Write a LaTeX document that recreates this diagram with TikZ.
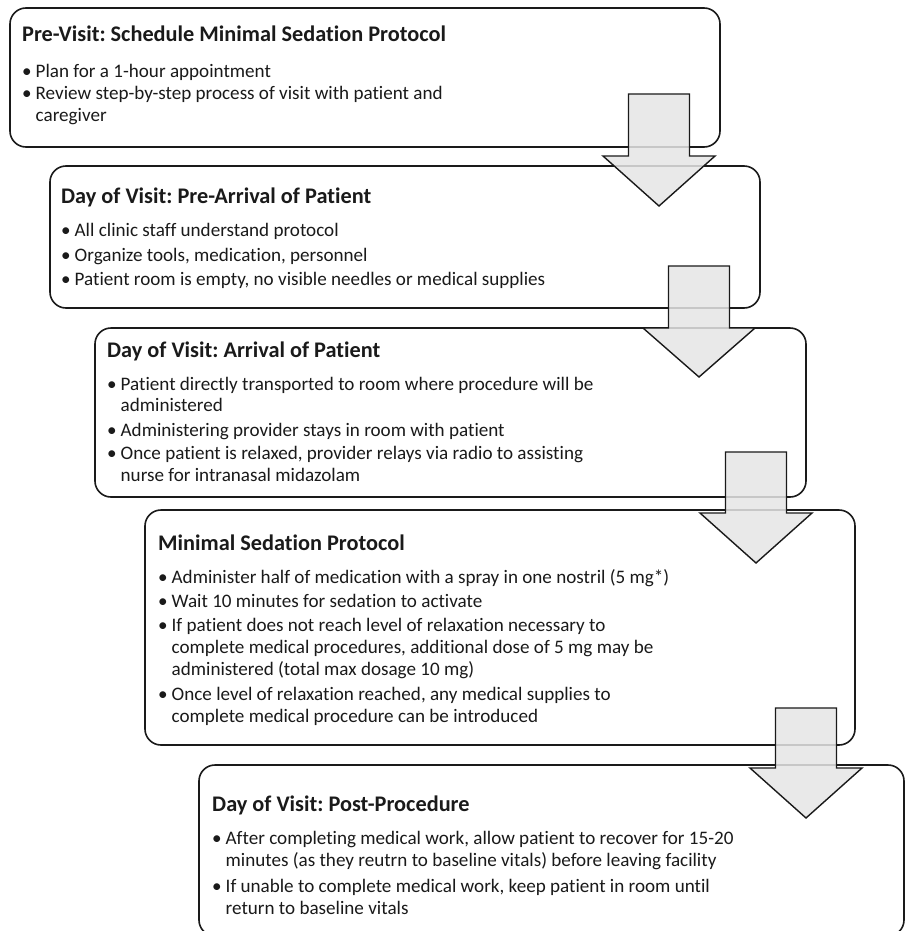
\documentclass[tikz,border=0pt]{standalone}
\usepackage{fontspec}
\setmainfont[Ligatures=NoCommon]{Carlito}
\frenchspacing
\definecolor{ink}{HTML}{1A1A1A}
\definecolor{arrfill}{HTML}{E6E6E6}
\newcommand{\bul}{\makebox[13.5bp][l]{•}}
\begin{document}
\begin{tikzpicture}[x=1bp,y=-1bp,
  box/.style={draw=ink, line width=1.6bp, rounded corners=16bp, fill=white},
  arr/.style={draw=ink, line width=1.4bp, fill=arrfill, fill opacity=0.85, line join=miter},
  ttl/.style={anchor=base west, inner sep=0, text=ink, font=\fontsize{22.3bp}{26bp}\selectfont\bfseries},
  txt/.style={anchor=base west, inner sep=0, text=ink, font=\fontsize{19.1bp}{22bp}\selectfont}]
\clip (0,0) rectangle (905,931);
\fill[white] (0,0) rectangle (905,931);
% boxes
\draw[box] (10,8) rectangle (720,147);
\draw[box] (50,166) rectangle (760,308);
\draw[box] (95,328) rectangle (806,497);
\draw[box] (145,510) rectangle (855,745);
\draw[box] (199,765) rectangle (904,936);
% block arrows
\newcommand{\blockarrow}[4]{%
  \draw[arr] ({#1-30.5},#2) -- ({#1+30.5},#2) -- ({#1+30.5},#3) -- ({#1+56},#3)
    -- (#1,#4) -- ({#1-56},#3) -- ({#1-30.5},#3) -- cycle;}
\blockarrow{659}{94}{156}{206}
\blockarrow{699}{266}{328}{377}
\blockarrow{756}{452}{513}{563}
\blockarrow{806}{708}{768}{818}
% box 1
\node[ttl] (t1) at (22,41.5) {Pre-Visit: Schedule Minimal Sedation Protocol};
\node[txt] (t1a) at (22,77) {\bul Plan for a 1-hour appointment};
\node[txt] (t1b) at (22,99.5) {\bul Review step-by-step process of visit with patient and};
\node[txt] (t1c) at (35.5,121.5) {caregiver};
% box 2
\node[ttl] (t2) at (61,203) {Day of Visit: Pre-Arrival of Patient};
\node[txt] (t2a) at (61,236) {\bul All clinic staff understand protocol};
\node[txt] (t2b) at (61,261) {\bul Organize tools, medication, personnel};
\node[txt] (t2c) at (61,285) {\bul Patient room is empty, no visible needles or medical supplies};
% box 3
\node[ttl] (t3) at (107,357) {Day of Visit: Arrival of Patient};
\node[txt] (t3a) at (107,390) {\bul Patient directly transported to room where procedure will be};
\node[txt] (t3b) at (120.5,411) {administered};
\node[txt] (t3c) at (107,436) {\bul Administering provider stays in room with patient};
\node[txt] (t3d) at (107,459) {\bul Once patient is relaxed, provider relays via radio to assisting};
\node[txt] (t3e) at (120.5,481) {nurse for intranasal midazolam};
% box 4
\node[ttl] (t4) at (158,550) {Minimal Sedation Protocol};
\node[txt] (t4a) at (158,583) {\bul Administer half of medication with a spray in one nostril (5 mg*)};
\node[txt] (t4b) at (158,607) {\bul Wait 10 minutes for sedation to activate};
\node[txt] (t4c) at (158,631) {\bul If patient does not reach level of relaxation necessary to};
\node[txt] (t4d) at (171.5,653) {complete medical procedures, additional dose of 5 mg may be};
\node[txt] (t4e) at (171.5,675) {administered (total max dosage 10 mg)};
\node[txt] (t4f) at (158,700) {\bul Once level of relaxation reached, any medical supplies to};
\node[txt] (t4g) at (171.5,722) {complete medical procedure can be introduced};
% box 5
\node[ttl] (t5) at (212,811) {Day of Visit: Post-Procedure};
\node[txt] (t5a) at (212,844) {\bul After completing medical work, allow patient to recover for 15-20};
\node[txt] (t5b) at (225.5,866) {minutes (as they reutrn to baseline vitals) before leaving facility};
\node[txt] (t5c) at (212,892) {\bul If unable to complete medical work, keep patient in room until};
\node[txt] (t5d) at (225.5,914) {return to baseline vitals};
\end{tikzpicture}
\end{document}
